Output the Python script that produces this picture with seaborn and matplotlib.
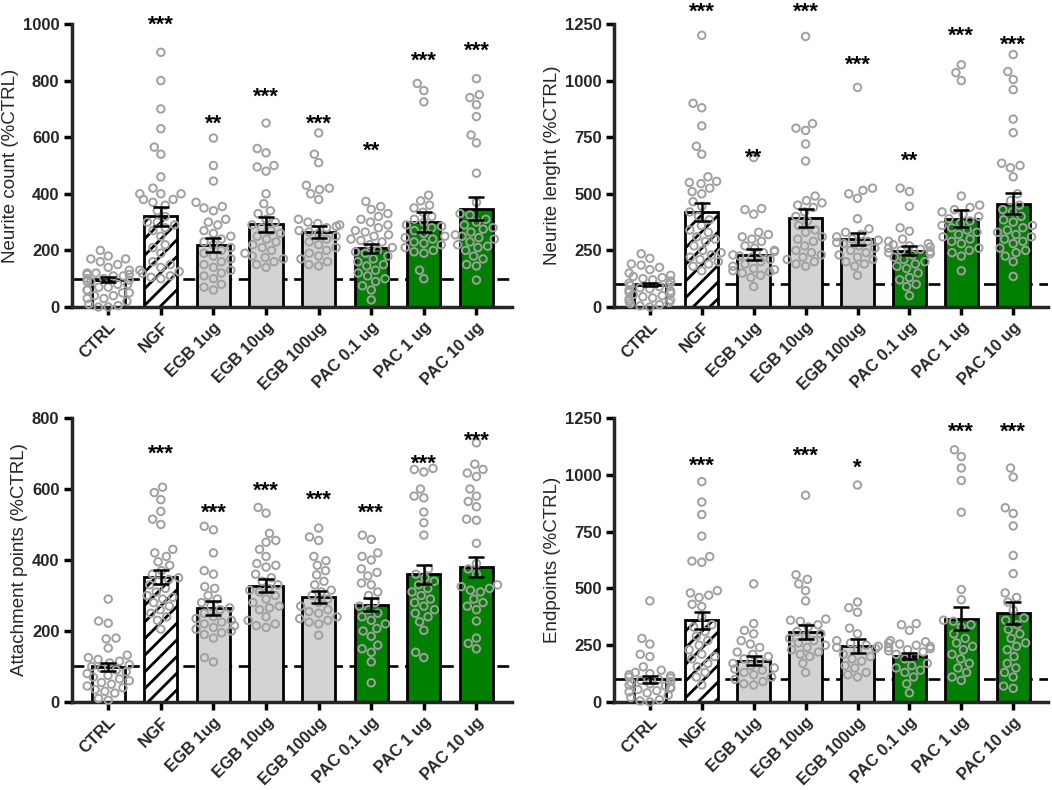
import pandas as pd
import matplotlib
matplotlib.use("Agg")
import matplotlib.pyplot as plt
import seaborn as sns

sns.set_style("ticks")
plt.rcParams["font.family"] = ["Liberation Sans", "DejaVu Sans"]
plt.rcParams["hatch.linewidth"] = 2.0

# === datos ===
grupos = ["CTRL", "NGF", "EGB 1ug", "EGB 10ug", "EGB 100ug", "PAC 0.1 ug", "PAC 1 ug", "PAC 10 ug"]
colores = ["white", "white", "#d3d3d3", "#d3d3d3", "#d3d3d3", "#008000", "#008000", "#008000"]

# Neurite count
count_media = [97, 320, 220, 292, 265, 208, 300, 348]
count_sem = [10, 33, 24, 27, 20, 16, 35, 41]
count_stars = ["", "***", "**", "***", "***", "**", "***", "***"]
count_star_y = [0, 994, 647, 742, 647, 551, 869, 905]
count_pts = [
    [200, 180, 170, 170, 160, 150, 140, 130, 120, 120, 115, 115, 110, 110, 100, 100, 95, 90,
     90, 80, 80, 70, 70, 60, 60, 50, 50, 40, 40, 30, 30, 20, 10, 5, 0, 0],
    [900, 800, 700, 630, 565, 540, 460, 420, 400, 400, 400, 380, 380, 370, 360, 340, 320, 300,
     300, 290, 280, 270, 250, 220, 210, 190, 160, 150, 140, 130, 125, 120, 110, 105, 100],
    [597, 500, 445, 370, 355, 350, 340, 310, 300, 290, 270, 260, 250, 240, 230, 220, 210, 200,
     190, 180, 170, 160, 150, 140, 130, 120, 110, 100, 80, 70, 60],
    [650, 560, 545, 500, 495, 480, 400, 365, 340, 330, 310, 300, 290, 280, 270, 260, 250, 240,
     230, 220, 210, 200, 190, 180, 175, 170, 160, 150, 140],
    [615, 540, 510, 430, 420, 415, 400, 380, 310, 300, 295, 290, 285, 280, 270, 265, 260, 250,
     240, 230, 220, 210, 200, 190, 180, 170, 160, 150, 145],
    [373, 355, 345, 330, 320, 310, 300, 290, 280, 270, 265, 255, 250, 240, 235, 230, 220, 210,
     200, 195, 190, 180, 170, 160, 150, 145, 130, 120, 110, 100, 90, 75, 60, 25],
    [790, 765, 725, 395, 375, 360, 350, 335, 320, 310, 300, 290, 285, 280, 270, 260, 250, 245,
     240, 230, 225, 220, 210, 200, 195, 190, 130, 100],
    [807, 750, 740, 715, 673, 608, 580, 473, 370, 330, 325, 310, 300, 290, 280, 275, 265, 255,
     250, 245, 240, 230, 220, 215, 210, 200, 180, 170, 150, 145, 95],
]

# Neurite lenght
largo_media = [99, 421, 231, 393, 300, 249, 390, 456]
largo_sem = [8, 40, 24, 40, 27, 20, 38, 46]
largo_stars = ["", "***", "**", "***", "***", "**", "***", "***"]
largo_star_y = [0, 1300, 658, 1300, 1069, 644, 1197, 1157]
largo_pts = [
    [235, 215, 190, 185, 175, 165, 150, 140, 135, 130, 125, 120, 115, 110, 105, 100, 95, 90,
     85, 80, 75, 70, 65, 60, 55, 50, 45, 40, 35, 30, 25, 20, 15, 10, 5, 0],
    [1200, 900, 880, 800, 710, 675, 575, 555, 550, 545, 525, 510, 500, 465, 445, 420, 400, 385,
     360, 340, 330, 310, 300, 290, 270, 250, 240, 230, 220, 210, 200, 190, 180, 160],
    [660, 435, 430, 410, 330, 320, 310, 300, 290, 270, 260, 250, 245, 240, 230, 225, 220, 210,
     200, 190, 180, 170, 165, 160, 155, 150, 140, 130, 90],
    [1195, 810, 790, 780, 720, 645, 490, 470, 460, 450, 440, 420, 400, 380, 360, 340, 330, 310,
     300, 290, 270, 250, 240, 230, 220, 210, 200, 190, 180],
    [970, 525, 515, 500, 480, 390, 345, 330, 320, 310, 300, 295, 290, 285, 280, 270, 260, 250,
     240, 230, 220, 210, 200, 190, 180, 140],
    [525, 510, 445, 350, 335, 300, 290, 280, 275, 270, 265, 260, 255, 250, 245, 240, 235, 230,
     220, 210, 200, 190, 180, 170, 150, 130, 120, 100, 90, 50],
    [1070, 1035, 1000, 490, 450, 440, 430, 420, 410, 400, 390, 380, 370, 360, 350, 340, 330, 320,
     310, 300, 290, 280, 260, 250, 240, 225, 160],
    [1115, 1040, 1005, 960, 830, 770, 635, 625, 615, 575, 500, 470, 450, 430, 420, 400, 385, 375,
     360, 350, 340, 330, 320, 310, 300, 290, 280, 260, 250, 240, 225, 200, 135],
]

# Attachment points
anclaje_media = [99, 351, 264, 328, 296, 274, 360, 380]
anclaje_sem = [12, 20, 20, 18, 16, 18, 27, 28]
anclaje_stars = ["", "***", "***", "***", "***", "***", "***", "***"]
anclaje_star_y = [0, 699, 533, 595, 569, 533, 671, 735]
anclaje_pts = [
    [290, 228, 222, 180, 178, 152, 132, 125, 120, 115, 110, 105, 100, 95, 90, 85, 80, 75,
     70, 65, 60, 55, 50, 45, 40, 35, 30, 25, 10, 5],
    [605, 590, 570, 537, 515, 500, 430, 420, 410, 395, 385, 370, 360, 350, 345, 340, 330, 320,
     310, 300, 295, 290, 280, 270, 260, 250, 240, 230, 205],
    [495, 485, 420, 370, 360, 325, 320, 300, 290, 280, 270, 265, 260, 250, 240, 235, 230, 225,
     220, 215, 210, 205, 200, 195, 190, 180, 125, 113],
    [548, 532, 475, 455, 450, 430, 410, 390, 385, 380, 360, 350, 340, 330, 320, 315, 310, 300,
     290, 280, 270, 265, 260, 240, 230, 220, 215, 210],
    [490, 465, 455, 410, 398, 385, 370, 358, 340, 330, 315, 310, 300, 290, 280, 270, 260, 255,
     250, 240, 235, 230, 225, 220, 188],
    [470, 458, 420, 410, 400, 375, 365, 355, 335, 330, 310, 300, 280, 270, 260, 250, 240, 230,
     220, 207, 200, 185, 160, 150, 140, 113, 54],
    [658, 655, 648, 600, 580, 575, 535, 505, 470, 375, 360, 350, 340, 330, 320, 310, 300, 290,
     280, 270, 260, 250, 240, 226, 202, 140, 125],
    [730, 670, 655, 645, 635, 600, 580, 565, 550, 515, 512, 447, 390, 375, 360, 330, 325, 320,
     315, 310, 290, 280, 270, 260, 228, 180, 165, 150],
]

# Endpoints
final_media = [100, 360, 181, 309, 247, 203, 366, 390]
final_sem = [15, 37, 20, 30, 30, 14, 50, 48]
final_stars = ["", "***", "", "***", "*", "", "***", "***"]
final_star_y = [0, 1038, 0, 1082, 1030, 0, 1188, 1188]
final_pts = [
    [445, 280, 255, 210, 200, 155, 140, 130, 125, 120, 115, 110, 105, 100, 95, 90, 85, 80,
     75, 70, 65, 60, 55, 50, 45, 40, 30, 20, 10, 5, 0],
    [970, 880, 825, 730, 640, 620, 615, 490, 480, 470, 460, 430, 420, 375, 340, 330, 310, 290,
     270, 250, 230, 210, 200, 190, 170, 155, 130, 110, 75],
    [520, 345, 315, 300, 270, 255, 240, 220, 210, 200, 190, 180, 170, 160, 150, 145, 140, 130,
     120, 110, 100, 90, 80, 75],
    [910, 560, 540, 520, 490, 445, 365, 360, 355, 340, 330, 310, 300, 290, 280, 270, 260, 250,
     240, 230, 220, 210, 200, 170, 130],
    [955, 440, 415, 395, 325, 300, 270, 260, 250, 245, 240, 235, 230, 210, 200, 190, 180, 160,
     150, 130, 120, 110],
    [345, 340, 315, 270, 265, 260, 255, 250, 245, 240, 235, 230, 225, 220, 210, 200, 190, 170,
     160, 150, 140, 130, 110, 80, 40],
    [1110, 1080, 1030, 975, 835, 495, 450, 360, 355, 340, 330, 300, 280, 260, 245, 230, 210, 190,
     170, 150, 130, 110, 95],
    [1030, 990, 855, 830, 775, 645, 565, 480, 460, 440, 405, 370, 360, 340, 320, 300, 280, 260,
     245, 230, 200, 170, 150, 130, 110, 70, 60],
]


# === función de dibujo ===
def dibujar_panel(ax, pts, medias, sems, stars, star_y, ylabel, ymax, paso):
    resumen = pd.DataFrame({"grupo": grupos, "media": medias})
    largo = pd.DataFrame(
        [(g, v) for g, vals in zip(grupos, pts) for v in vals], columns=["grupo", "valor"]
    )

    ax.axhline(100, color="black", lw=1.9, dashes=(4.5, 2.5), zorder=0.5)

    sns.barplot(data=resumen, x="grupo", y="media", hue="grupo", order=grupos,
                hue_order=grupos, palette=colores, saturation=1, legend=False, width=0.63,
                edgecolor="black", linewidth=2.0, ax=ax, zorder=1)
    ax.patches[1].set_hatch("//")

    n_antes = len(ax.collections)
    sns.swarmplot(data=largo, x="grupo", y="valor", order=grupos, size=5.4,
                  color="#a0a0a0", linewidth=1.4, ax=ax, zorder=3, warn_thresh=1)
    for col in ax.collections[n_antes:]:
        col.set_facecolor("none")
        col.set_edgecolor("#a0a0a0")
        col.set_clip_on(False)

    ax.errorbar(range(len(grupos)), medias, yerr=sems, fmt="none", ecolor="black",
                elinewidth=1.8, capsize=6, capthick=1.8, zorder=5)

    for i, s in enumerate(stars):
        if s:
            ax.text(i, star_y[i], s, ha="center", va="center", fontsize=16,
                    fontweight="bold", color="black")

    ax.set_xlim(-0.69, 7.67)
    ax.set_ylim(0, ymax)
    ax.set_yticks(range(0, ymax + 1, paso))
    ax.set_xlabel("")
    ax.set_ylabel(ylabel, fontsize=13.5, labelpad=3)
    ax.set_xticks(range(len(grupos)))
    ax.set_xticklabels(grupos, rotation=45, ha="right", rotation_mode="anchor",
                       fontsize=12, fontweight="bold")
    for lab in ax.get_yticklabels():
        lab.set_fontweight("bold")
        lab.set_fontsize(12)
    sns.despine(ax=ax)
    for lado in ["left", "bottom"]:
        ax.spines[lado].set_linewidth(2.5)
    ax.tick_params(axis="both", width=2.5, length=6, color="black", pad=3)


fig = plt.figure(figsize=(10.52, 7.9), dpi=100)
ax1 = fig.add_axes([0.0684, 0.6114, 0.418, 0.3582])
ax2 = fig.add_axes([0.5837, 0.6114, 0.4125, 0.3582])
ax3 = fig.add_axes([0.0684, 0.1114, 0.418, 0.3595])
ax4 = fig.add_axes([0.5837, 0.1114, 0.4125, 0.3595])

dibujar_panel(ax1, count_pts, count_media, count_sem, count_stars, count_star_y,
              "Neurite count (%CTRL)", 1000, 200)
dibujar_panel(ax2, largo_pts, largo_media, largo_sem, largo_stars, largo_star_y,
              "Neurite lenght (%CTRL)", 1250, 250)
dibujar_panel(ax3, anclaje_pts, anclaje_media, anclaje_sem, anclaje_stars, anclaje_star_y,
              "Attachment points (%CTRL)", 800, 200)
dibujar_panel(ax4, final_pts, final_media, final_sem, final_stars, final_star_y,
              "Endpoints (%CTRL)", 1250, 250)

fig.savefig("out.png", dpi=100)
